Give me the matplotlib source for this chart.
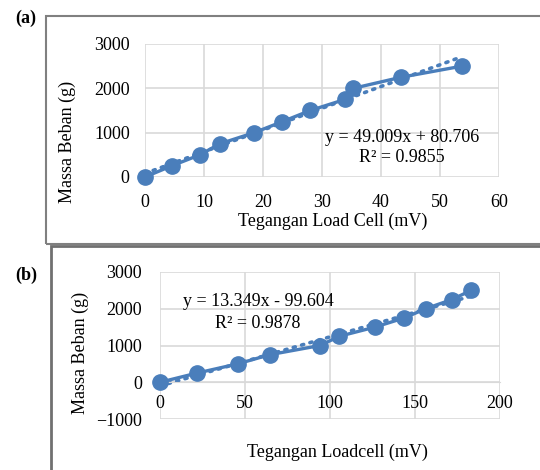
import numpy as np
import matplotlib
matplotlib.use("Agg")
import matplotlib.pyplot as plt
from matplotlib.patches import Rectangle

# data
mass = [0, 250, 500, 750, 1000, 1250, 1500, 1750, 2000, 2250, 2500]
volt_a = [0, 4.5, 9.3, 12.7, 18.5, 23.3, 28.0, 33.9, 35.3, 43.4, 53.7]
volt_b = [0, 21.8, 45.7, 64.6, 94.2, 105.4, 126.4, 143.7, 156.2, 171.7, 183.0]
fit_a = (49.009, 80.706)
fit_b = (13.349, -99.604)

W, H = 540, 470
blue = '#4a7ebb'
grid_c = '#d9d9d9'
plt.rcParams['font.family'] = ['Liberation Serif', 'DejaVu Serif']
fs = 13

fig = plt.figure(figsize=(W / 100, H / 100), dpi=100)


def px_axes(l, t, r, b):
    return fig.add_axes([l / W, 1 - b / H, (r - l) / W, (b - t) / H])


def fx(x):
    return x / W


def fy(y):
    return 1 - y / H


# outer frames
fig.patches.append(Rectangle((fx(46), fy(244)), fx(600), fy(16) - fy(244), transform=fig.transFigure,
                             fill=False, ec='#808080', lw=1.5))
fig.patches.append(Rectangle((fx(51), fy(520)), fx(600), fy(246) - fy(520), transform=fig.transFigure,
                             fill=False, ec='#707070', lw=2))


def style(ax):
    for s in ax.spines.values():
        s.set_visible(False)
    ax.grid(True, color=grid_c, lw=1.2)
    ax.set_axisbelow(True)
    ax.tick_params(length=0, labelsize=fs)


def draw(ax, xs, ys, fit):
    ax.plot(xs, ys, '-o', color=blue, lw=2.4, ms=11, zorder=3, clip_on=False)
    xx = np.array([0, xs[-1]])
    ax.plot(xx, fit[0] * xx + fit[1], color=blue, lw=2.6, ls=(0, (0.6, 1.8)),
            dash_capstyle='round', zorder=2, clip_on=False)


# panel (a)
ax1 = px_axes(145, 44, 499, 177)
style(ax1)
draw(ax1, volt_a, mass, fit_a)
ax1.set_xlim(0, 60)
ax1.set_ylim(0, 3000)
ax1.set_xticks(range(0, 61, 10))
ax1.set_yticks(range(0, 3001, 1000))
ax1.tick_params(axis='x', pad=12)
ax1.tick_params(axis='y', pad=11)
fig.text(fx(402), fy(137), 'y = 49.009x + 80.706', ha='center', va='center', fontsize=fs)
fig.text(fx(402), fy(158), 'R² = 0.9855', ha='center', va='center', fontsize=fs)
fig.text(fx(67), fy(142), 'Massa Beban (g)', rotation=90, ha='center', va='center', fontsize=fs)
fig.text(fx(333), fy(221), 'Tegangan Load Cell (mV)', ha='center', va='center', fontsize=fs)
fig.text(fx(26), fy(18), '(a)', ha='center', va='center', fontsize=fs, fontweight='bold')

# panel (b)
ax2 = px_axes(160, 272, 500, 419)
style(ax2)
draw(ax2, volt_b, mass, fit_b)
ax2.set_xlim(0, 200)
ax2.set_ylim(-1000, 3000)
ax2.set_xticks(range(0, 201, 50))
ax2.set_yticks(range(-1000, 3001, 1000))
ax2.spines['bottom'].set_visible(True)
ax2.spines['bottom'].set_position(('data', 0))
ax2.spines['bottom'].set_color(grid_c)
ax2.tick_params(axis='x', pad=9)
ax2.tick_params(axis='y', pad=13)
fig.text(fx(258), fy(302), 'y = 13.349x - 99.604', ha='center', va='center', fontsize=fs)
fig.text(fx(258), fy(323), 'R² = 0.9878', ha='center', va='center', fontsize=fs)
fig.text(fx(80), fy(353), 'Massa Beban (g)', rotation=90, ha='center', va='center', fontsize=fs)
fig.text(fx(337), fy(452), 'Tegangan Loadcell (mV)', ha='center', va='center', fontsize=fs)
fig.text(fx(26), fy(275), '(b)', ha='center', va='center', fontsize=fs, fontweight='bold')

fig.savefig('out.png', dpi=100)
